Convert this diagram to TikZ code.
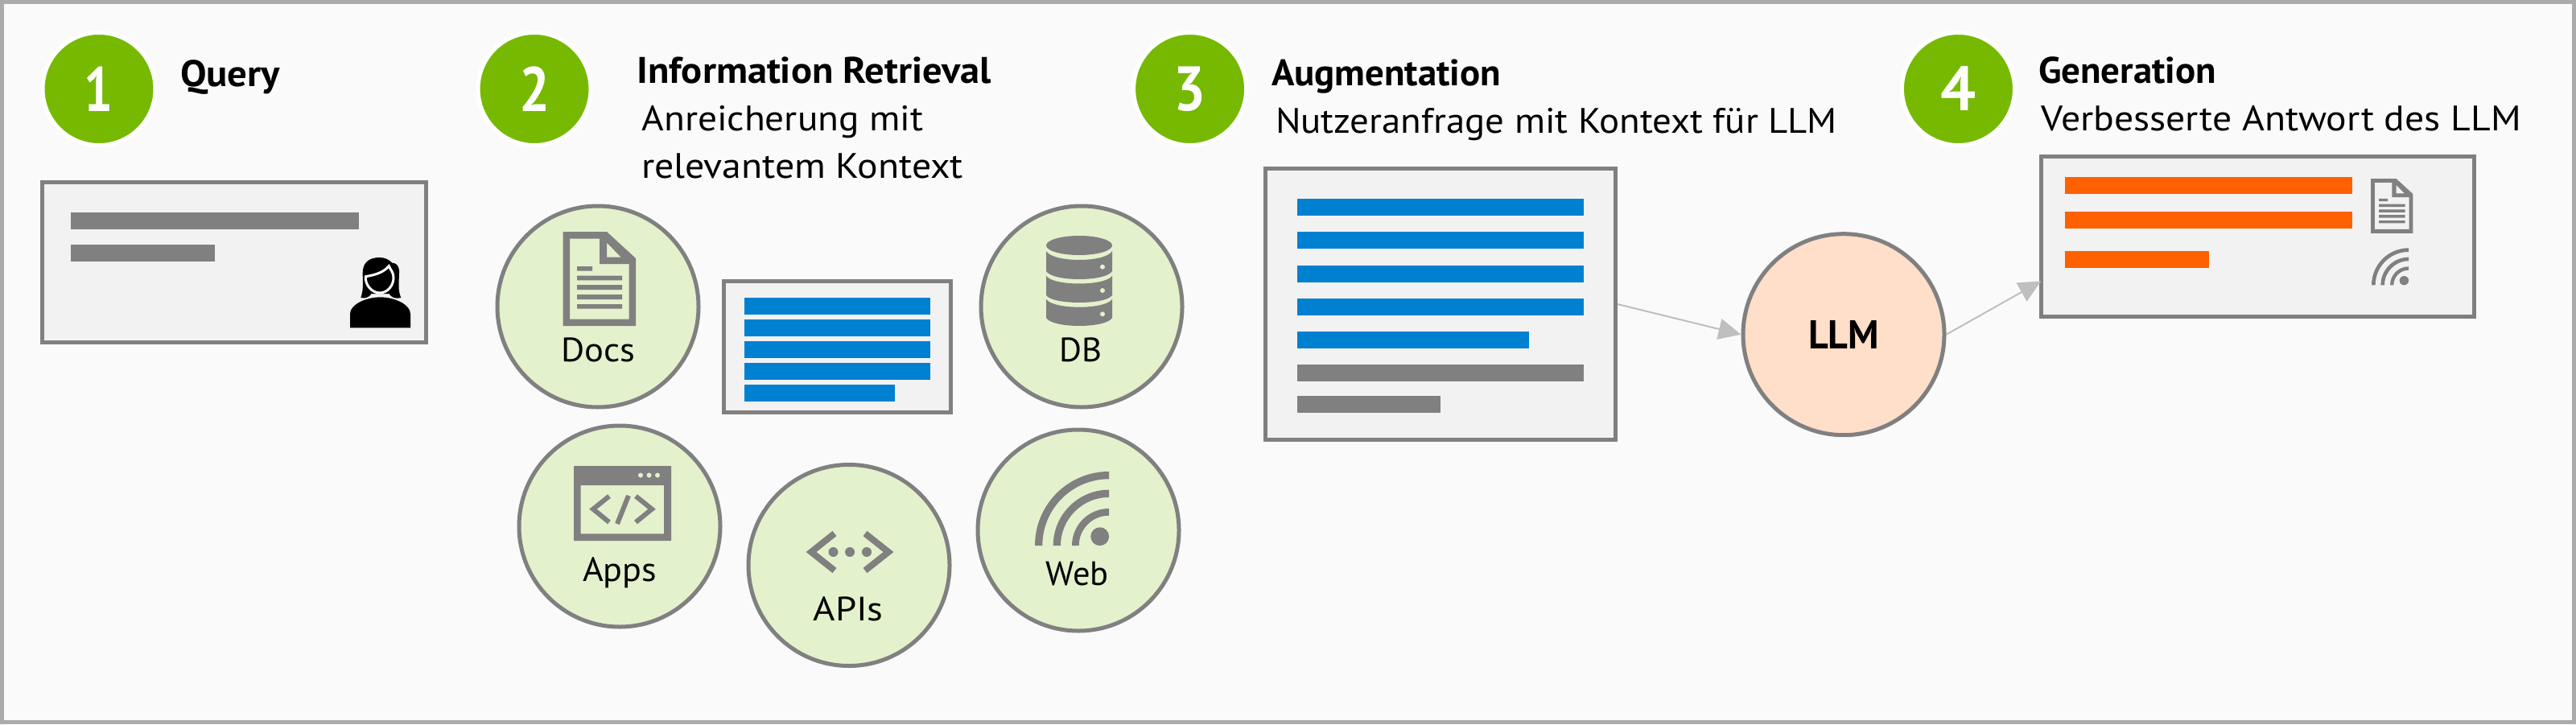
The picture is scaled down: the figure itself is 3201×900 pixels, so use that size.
\documentclass[tikz,border=0pt]{standalone}
\usepackage{fontspec}
\usepackage{graphicx}
\usetikzlibrary{arrows.meta}
\setmainfont{PT Sans}
\definecolor{bgc}{HTML}{FAFAFA}
\definecolor{framec}{HTML}{ABABAB}
\definecolor{grayc}{HTML}{808080}
\definecolor{boxc}{HTML}{F2F2F2}
\definecolor{greenc}{HTML}{76B900}
\definecolor{paleg}{HTML}{E4F1CD}
\definecolor{llmc}{HTML}{FFDECA}
\definecolor{bluec}{HTML}{0080D0}
\definecolor{orangec}{HTML}{FF6000}
\definecolor{arrowc}{HTML}{BFBFBF}
\tikzset{
  numdot/.style={circle,fill=greenc,draw=white,line width=5pt,minimum size=140pt,inner sep=0pt,text=white,font=\fontsize{78}{78}\selectfont\bfseries},
  src/.style={circle,fill=paleg,draw=grayc,line width=5pt,minimum size=250pt,inner sep=0pt},
  llmdot/.style={circle,fill=llmc,draw=grayc,line width=5pt,minimum size=250pt,inner sep=0pt,font=\fontsize{50}{50}\selectfont\bfseries},
  card/.style={rectangle,fill=boxc,draw=grayc,line width=5pt,inner sep=0pt},
  txt/.style={anchor=base west,inner sep=0pt,outer sep=0pt,text=black},
  head/.style={txt,font=\fontsize{46}{46}\selectfont\bfseries},
  sub/.style={txt,font=\fontsize{44}{44}\selectfont},
  lab/.style={txt,font=\fontsize{42}{42}\selectfont},
  flow/.style={draw=arrowc,line width=2pt,-{Triangle[length=28pt,width=26pt]}},
  gbar/.style={fill=grayc},
  bbar/.style={fill=bluec},
  obar/.style={fill=orangec},
}
\newcommand\fitw[2]{\resizebox{#1pt}{\height}{#2}}
\newcommand\barbox[5]{\fill[#1] (#2,#3) rectangle (#4,#5);}
\newcommand\docicon[3]{%
 \begin{scope}[shift={(#1,#2)},scale=#3]
  \fill[grayc,even odd rule] (0,0)--(54.4,0)--(90.4,33)--(90.4,117)--(0,117)--cycle
    (8.5,8.5)--(45.4,8.5)--(45.4,40)--(82,40)--(82,108.5)--(8.5,108.5)--cycle
    (54.4,13.7)--(72.2,31.6)--(54.4,31.6)--cycle;
  \fill[grayc] (17.4,43) rectangle (36.4,48.5) (17.4,54.6) rectangle (73.4,60.4)
    (17.4,66) rectangle (73.4,72) (17.4,78) rectangle (73.4,84) (17.4,90) rectangle (73.4,95.5);
 \end{scope}}
\newcommand\webicon[3]{%
 \begin{scope}[shift={(#1,#2)},scale=#3]
  \fill[grayc]
   (-92,0) .. controls (-92,-50.8) and (-50.8,-92) .. (0,-92) -- (0,-82.7) .. controls (-45.7,-82.7) and (-82.7,-45.7) .. (-82.7,0) -- cycle
   (-69.3,0) .. controls (-69.3,-38.3) and (-38.3,-69.3) .. (0,-69.3) -- (0,-60) .. controls (-33.1,-60) and (-60,-33.1) .. (-60,0) -- cycle
   (-46,0) .. controls (-46,-25.4) and (-25.4,-46) .. (0,-46) -- (0,-37.3) .. controls (-20.6,-37.3) and (-37.3,-20.6) .. (-37.3,0) -- cycle
   (-11.3,-11.3) circle [radius=11.4];
 \end{scope}}
\newcommand\dbsec[4]{%
 \fill[grayc] (1300,#1) .. controls (1308,#1+1.33*#2-1.33*#1) and (1374,#1+1.33*#2-1.33*#1) .. (1382,#1)
   -- (1382,#3) .. controls (1374,#3+1.33*#4-1.33*#3) and (1308,#3+1.33*#4-1.33*#3) .. (1300,#3) -- cycle;}
\begin{document}
\begin{tikzpicture}[x=1pt,y=-1pt]
\useasboundingbox (0,0) rectangle (3201,900);
\draw[framec,fill=bgc,line width=5pt] (2.5,2.5) rectangle (3198.5,897.5);

% numbered circles
\node[numdot] (n1) at (123,110.5) {\fitw{36}{1}};
\node[numdot] (n2) at (664,110.5) {\fitw{38}{2}};
\node[numdot] (n3) at (1478.6,110.5) {\fitw{40}{3}};
\node[numdot] (n4) at (2433.4,110.5) {\fitw{44}{4}};

% headings
\node[head] (h1) at (224,107) {\fitw{124}{Query}};
\node[head] (h2) at (791.4,103.3) {\fitw{440}{Information Retrieval}};
\node[sub]  (s2a) at (797.5,162.3) {\fitw{350}{Anreicherung mit}};
\node[sub]  (s2b) at (797,221.7) {\fitw{400}{relevantem Kontext}};
\node[head] (h3) at (1580,106.7) {\fitw{285}{Augmentation}};
\node[sub]  (s3) at (1585,165.7) {\fitw{698}{Nutzeranfrage mit Kontext für LLM}};
\node[head] (h4) at (2533,103.3) {\fitw{221}{Generation}};
\node[sub]  (s4) at (2536.7,162.3) {\fitw{596}{Verbesserte Antwort des LLM}};

% query card
\node[card,minimum width=477pt,minimum height=199pt] (qcard) at (291,326) {};
\barbox{gbar}{88.4}{264}{445.5}{285}
\barbox{gbar}{88.4}{304}{267}{325}
\begin{scope}[shift={(425,310)},scale=1/3]
 \fill[black] (70,180) .. controls (80,150) and (78,130) .. (77,90) .. controls (76,50) and (100,30) .. (140,30)
   .. controls (160,30) and (175,38) .. (187,50) .. controls (205,50) and (215,65) .. (213,90)
   .. controls (212,125) and (208,155) .. (220,180) .. controls (200,185) and (185,180) .. (175,165)
   -- (110,165) .. controls (100,180) and (85,183) .. (70,180) -- cycle;
 \draw[white,line width=3pt,fill=black] (88,101) .. controls (125,95) and (155,85) .. (175,62)
   .. controls (180,75) and (192,85) .. (192,105) .. controls (192,135) and (170,162) .. (140,162)
   .. controls (110,162) and (85,130) .. (88,101) -- cycle;
 \fill[black] (30,292) -- (30,240) .. controls (30,205) and (90,178) .. (143,178)
   .. controls (195,178) and (255,205) .. (255,240) -- (255,292) -- cycle;
\end{scope}

% sources
\node[src] (docs) at (743,381) {};
\docicon{699.6}{288}{1}
\node[lab] (docsl) at (697,449) {\fitw{92}{Docs}};
\node[src] (db) at (1344,381) {};
\fill[grayc] (1341,305) ellipse [x radius=41,y radius=12];
\dbsec{312}{323}{337}{347}
\dbsec{342.7}{352.5}{367}{376}
\dbsec{371.7}{381.7}{395}{405}
\fill[paleg] (1370,331.7) circle [radius=3] (1370,361) circle [radius=3] (1370,390.3) circle [radius=3];
\node[lab] (dbl) at (1316,449.3) {\fitw{53}{DB}};
\node[src] (apps) at (770,654) {};
\fill[grayc,even odd rule] (713,579) rectangle (834,672) (721.6,603) rectangle (825,663.3);
\fill[paleg] (796,590.6) circle [radius=3] (806.5,590.6) circle [radius=3] (817,590.6) circle [radius=3];
\draw[grayc,line width=6pt] (757,616.6) -- (737,632.7) -- (757,649);
\draw[grayc,line width=6pt] (790,616.6) -- (810,632.7) -- (790,649);
\draw[grayc,line width=6pt] (781,616) -- (767,651);
\node[lab] (appsl) at (724,722.6) {\fitw{92}{Apps}};
\node[src] (apis) at (1055,702.5) {};
\draw[grayc,line width=8pt] (1037,663) -- (1008,686) -- (1037,709);
\draw[grayc,line width=8pt] (1075,663) -- (1104,686) -- (1075,709);
\fill[grayc] (1035.5,686) circle [radius=6] (1056,686) circle [radius=6] (1077,686) circle [radius=6];
\node[lab] (apisl) at (1010.6,771) {\fitw{87}{APIs}};
\node[src] (web) at (1340,659) {};
\webicon{1378}{678}{1}
\node[lab] (webl) at (1299.7,727) {\fitw{78}{Web}};

% retrieved card
\node[card,minimum width=282pt,minimum height=163pt] (rcard) at (1040.5,431) {};
\barbox{bbar}{924.5}{370}{1156}{391}
\barbox{bbar}{924.5}{397}{1156}{417.6}
\barbox{bbar}{924.5}{424}{1156}{445}
\barbox{bbar}{924.5}{451}{1156}{471.6}
\barbox{bbar}{924.5}{478}{1112}{499}

% augmented card
\node[card,minimum width=435pt,minimum height=337pt] (acard) at (1790,378) {};
\barbox{bbar}{1611.7}{247}{1968.3}{268}
\barbox{bbar}{1611.7}{288}{1968.3}{309}
\barbox{bbar}{1611.7}{330}{1968.3}{351}
\barbox{bbar}{1611.7}{371}{1968.3}{392}
\barbox{bbar}{1611.7}{412}{1900.3}{433}
\barbox{gbar}{1611.7}{453}{1968.3}{474}
\barbox{gbar}{1611.7}{492}{1790}{513}

% LLM
\node[llmdot] (llm) at (2291,415.7) {\fitw{88}{LLM}};

% generated card
\node[card,minimum width=538pt,minimum height=199pt] (gcard) at (2805.5,294) {};
\barbox{obar}{2566}{220}{2923}{241}
\barbox{obar}{2566}{263}{2923}{284}
\barbox{obar}{2566}{312}{2745}{333}
\docicon{2946}{222}{0.58}
\webicon{2993}{354.3}{0.5}

% connectors
\coordinate (genin) at (2536.4,349.3);
\draw[flow] (acard.east) -- (llm.west);
\draw[flow] (llm.east) -- (genin);
\end{tikzpicture}
\end{document}
